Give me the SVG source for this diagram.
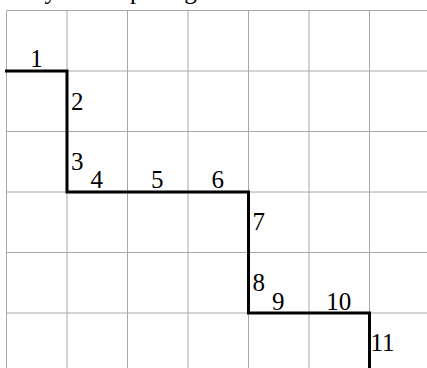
<svg xmlns="http://www.w3.org/2000/svg" width="427" height="368" viewBox="0 0 427 368">
<style>
.grid line{stroke:#a8a8a8;stroke-width:1;fill:none}
.path{stroke:#000;stroke-width:3;fill:none;stroke-linejoin:miter;stroke-linecap:square}
text{font-family:"Liberation Serif","Times New Roman",serif;font-size:25px;fill:#000}
.m{text-anchor:middle}
</style>
<rect width="427" height="368" fill="#fff"/>
<text id="caption" x="5" y="-1" font-size="29">es by decomposing the latter where</text>
<g id="grid" class="grid">
<line x1="6.5" y1="10.5" x2="6.5" y2="368"/>
<line x1="67" y1="10.5" x2="67" y2="368"/>
<line x1="127.5" y1="10.5" x2="127.5" y2="368"/>
<line x1="188" y1="10.5" x2="188" y2="368"/>
<line x1="248.5" y1="10.5" x2="248.5" y2="368"/>
<line x1="309" y1="10.5" x2="309" y2="368"/>
<line x1="369.5" y1="10.5" x2="369.5" y2="368"/>
<line x1="6.5" y1="10.5" x2="427" y2="10.5"/>
<line x1="6.5" y1="71" x2="427" y2="71"/>
<line x1="6.5" y1="131.5" x2="427" y2="131.5"/>
<line x1="6.5" y1="192" x2="427" y2="192"/>
<line x1="6.5" y1="252.5" x2="427" y2="252.5"/>
<line x1="6.5" y1="313" x2="427" y2="313"/>
</g>
<g id="connectors">
<path class="path" d="M6.5 71H67V192H248.5V313H369.5V370"/>
</g>
<g id="labels">
<text class="m" x="36.5" y="67">1</text>
<text x="71" y="110">2</text>
<text x="71" y="170">3</text>
<text class="m" x="96.8" y="188">4</text>
<text class="m" x="157.3" y="188">5</text>
<text class="m" x="217.8" y="188">6</text>
<text x="252.5" y="230">7</text>
<text x="252.5" y="291">8</text>
<text class="m" x="278.3" y="310">9</text>
<text class="m" x="338.8" y="310">10</text>
<text x="370.5" y="351">11</text>
</g>
</svg>
